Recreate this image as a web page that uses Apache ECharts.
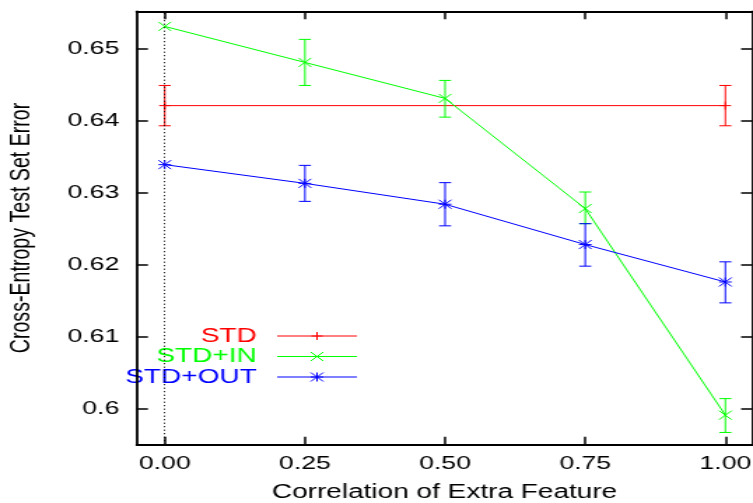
<!DOCTYPE html>
<html>
<head>
<meta charset="utf-8">
<script src="https://cdn.jsdelivr.net/npm/echarts@6/dist/echarts.min.js"></script>
<style>
html, body { margin: 0; padding: 0; background: #fff; overflow: hidden; }
#wrap { width: 753px; height: 503px; overflow: hidden; }
#chart { width: 538px; height: 503px; transform: scaleX(1.3996); transform-origin: 0 0; }
</style>
</head>
<body>
<div id="wrap"><div id="chart"></div></div>
<script>
// ---- data ----
const xValues = [0, 0.25, 0.5, 0.75, 1];
const xTicks = [0, 0.25, 0.5, 0.75, 1];
const yTicks = [0.6, 0.61, 0.62, 0.63, 0.64, 0.65];

const stdX = [0, 1];
const stdY = [0.6421, 0.6421];
const stdLo = [0.6393, 0.6393];
const stdHi = [0.6449, 0.6449];

const inY = [0.6531, 0.6481, 0.6431, 0.6278, 0.5991];
const inLo = [0.6531, 0.6449, 0.6405, 0.6257, 0.5967];
const inHi = [0.6531, 0.6513, 0.6456, 0.6301, 0.6014];

const outY = [0.6339, 0.6313, 0.6284, 0.6228, 0.6176];
const outLo = [0.6339, 0.6288, 0.6254, 0.6198, 0.6147];
const outHi = [0.6339, 0.6338, 0.6314, 0.6257, 0.6204];

const seriesNames = ['STD', 'STD+IN', 'STD+OUT'];
const colors = ['#ff0000', '#00ff00', '#0000ff'];

// ---- helpers ----
const FONT = "'Liberation Sans', Arial, Helvetica, sans-serif";
function zip2(xs, ys) { return xs.map((x, i) => [x, ys[i]]); }
function zip4(xs, ys, lo, hi) { return xs.map((x, i) => [x, ys[i], lo[i], hi[i]]); }

function markerLines(cx, cy, type, color) {
  const s = { stroke: color, lineWidth: 1, fill: null };
  const out = [];
  const hp = 4, hx = 4.5;
  if (type === 'plus' || type === 'star') {
    const h = type === 'plus' ? hp : hx;
    out.push({ type: 'line', shape: { x1: cx - h, y1: cy, x2: cx + h, y2: cy }, style: s });
    out.push({ type: 'line', shape: { x1: cx, y1: cy - h, x2: cx, y2: cy + h }, style: s });
  }
  if (type === 'cross' || type === 'star') {
    out.push({ type: 'line', shape: { x1: cx - hx, y1: cy - hx, x2: cx + hx, y2: cy + hx }, style: s });
    out.push({ type: 'line', shape: { x1: cx - hx, y1: cy + hx, x2: cx + hx, y2: cy - hx }, style: s });
  }
  return out;
}

function makeErrRender(color, markerType) {
  return function (params, api) {
    const x = api.value(0), y = api.value(1), lo = api.value(2), hi = api.value(3);
    const p = api.coord([x, y]);
    const s = { stroke: color, lineWidth: 1, fill: null };
    let children = [];
    if (hi - lo > 1e-9) {
      const a = api.coord([x, hi]), b = api.coord([x, lo]);
      const cw = 4.3;
      children.push({ type: 'line', shape: { x1: a[0], y1: a[1], x2: b[0], y2: b[1] }, style: s });
      children.push({ type: 'line', shape: { x1: a[0] - cw, y1: a[1], x2: a[0] + cw, y2: a[1] }, style: s });
      children.push({ type: 'line', shape: { x1: b[0] - cw, y1: b[1], x2: b[0] + cw, y2: b[1] }, style: s });
    }
    children = children.concat(markerLines(p[0], p[1], markerType, color));
    return { type: 'group', children: children };
  };
}

// ---- legend (gnuplot style, drawn as graphic) ----
const legendRows = [336, 356.5, 377];
const legendMarkers = ['plus', 'cross', 'star'];
const legendGraphic = [];
seriesNames.forEach((name, i) => {
  const y = legendRows[i];
  legendGraphic.push({
    type: 'text', x: 183.4, y: y,
    style: { text: name, fill: colors[i], font: '20px ' + FONT, textAlign: 'right', textVerticalAlign: 'middle' }
  });
  legendGraphic.push({
    type: 'line', shape: { x1: 198, y1: y, x2: 255, y2: y },
    style: { stroke: colors[i], lineWidth: 1 }
  });
  markerLines(226.5, y, legendMarkers[i], colors[i]).forEach(m => legendGraphic.push(m));
});

// ---- chart ----
const chart = echarts.init(document.getElementById('chart'), null, { renderer: 'canvas' });

const axisLineStyle = { color: '#000', width: 1.8 };
const xAxisCommon = {
  type: 'value', min: -0.05, max: 1.048,
  splitLine: { show: false },
  axisLine: { show: true, onZero: false, lineStyle: axisLineStyle },
  axisTick: { show: true, inside: true, length: 8, customValues: xTicks, lineStyle: { color: '#000', width: 1.5 } }
};
const yAxisCommon = {
  type: 'value', min: 0.595, max: 0.6552,
  splitLine: { show: false },
  axisLine: { show: true, onZero: false, lineStyle: axisLineStyle },
  axisTick: { show: true, inside: true, length: 8, customValues: yTicks, lineStyle: { color: '#000', width: 1.5 } }
};

chart.setOption({
  animation: false,
  backgroundColor: '#fff',
  grid: { left: 97.7, right: 0.5, top: 11.3, bottom: 58.3, containLabel: false, outerBoundsMode: 'none' },
  xAxis: [
    Object.assign({}, xAxisCommon, {
      position: 'bottom',
      name: 'Correlation of Extra Feature',
      nameLocation: 'middle', nameGap: 38,
      nameTextStyle: { color: '#000', fontSize: 20, fontFamily: FONT },
      axisLabel: {
        show: true, customValues: xTicks, margin: 10, color: '#000', fontSize: 19, fontFamily: FONT,
        formatter: v => Number(v).toFixed(2)
      }
    }),
    Object.assign({}, xAxisCommon, { position: 'top', axisLabel: { show: false } })
  ],
  yAxis: [
    Object.assign({}, yAxisCommon, {
      position: 'left',
      name: 'Cross-Entropy Test Set Error',
      nameLocation: 'middle', nameGap: 72, nameRotate: 90,
      nameTextStyle: { color: '#000', fontSize: 19.6, fontFamily: FONT },
      axisLabel: {
        show: true, customValues: yTicks, margin: 12.5, color: '#000', fontSize: 19, fontFamily: FONT,
        formatter: v => String(Number(v.toFixed(4)))
      }
    }),
    Object.assign({}, yAxisCommon, { position: 'right', axisLabel: { show: false } })
  ],
  graphic: legendGraphic,
  series: [
    {
      name: seriesNames[0], type: 'line', data: zip2(stdX, stdY), showSymbol: false,
      lineStyle: { color: colors[0], width: 1 }, itemStyle: { color: colors[0] }, z: 2,
      markLine: {
        silent: true, symbol: 'none', label: { show: false },
        lineStyle: { color: '#000', type: [1, 2.5], width: 1 },
        data: [{ xAxis: 0 }]
      }
    },
    {
      name: seriesNames[0] + ' err', type: 'custom', data: zip4(stdX, stdY, stdLo, stdHi),
      encode: { x: 0, y: 1 }, renderItem: makeErrRender(colors[0], 'plus'), z: 3
    },
    {
      name: seriesNames[1], type: 'line', data: zip2(xValues, inY), showSymbol: false,
      lineStyle: { color: colors[1], width: 1 }, itemStyle: { color: colors[1] }, z: 4
    },
    {
      name: seriesNames[1] + ' err', type: 'custom', data: zip4(xValues, inY, inLo, inHi),
      encode: { x: 0, y: 1 }, renderItem: makeErrRender(colors[1], 'cross'), z: 5
    },
    {
      name: seriesNames[2], type: 'line', data: zip2(xValues, outY), showSymbol: false,
      lineStyle: { color: colors[2], width: 1 }, itemStyle: { color: colors[2] }, z: 6
    },
    {
      name: seriesNames[2] + ' err', type: 'custom', data: zip4(xValues, outY, outLo, outHi),
      encode: { x: 0, y: 1 }, renderItem: makeErrRender(colors[2], 'star'), z: 7
    }
  ]
});
</script>
</body>
</html>
